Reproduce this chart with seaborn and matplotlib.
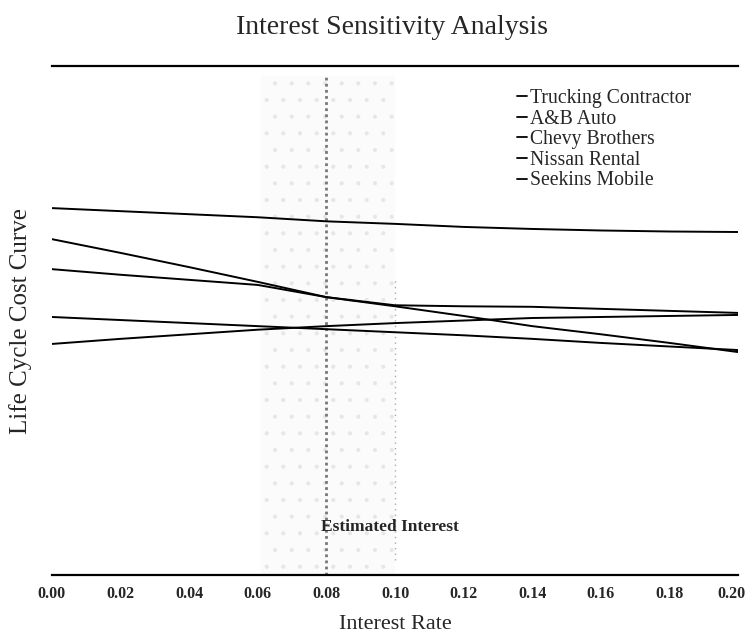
import numpy as np
import pandas as pd
import matplotlib
matplotlib.use("Agg")
import matplotlib.pyplot as plt
import matplotlib.transforms as mtransforms
import seaborn as sns

# ---- data (y axis has no scale, arbitrary units 0-100) ----
interest_rate = [0.00, 0.02, 0.04, 0.06, 0.08, 0.10, 0.12, 0.14, 0.16, 0.18, 0.20]
trucking_contractor = [72.1, 71.5, 70.9, 70.3, 69.5, 69.0, 68.4, 68.0, 67.7, 67.5, 67.4]
ab_auto = [66.0, 63.3, 60.5, 57.6, 54.6, 52.8, 50.9, 48.9, 47.3, 45.6, 43.8]
chevy_brothers = [60.1, 59.0, 58.0, 57.0, 54.6, 53.0, 52.8, 52.7, 52.3, 51.9, 51.5]
nissan_rental = [50.7, 50.1, 49.5, 48.9, 48.3, 47.7, 47.1, 46.4, 45.6, 44.9, 44.2]
seekins_mobile = [45.4, 46.4, 47.3, 48.2, 48.9, 49.5, 50.0, 50.5, 50.7, 50.9, 51.1]
series_names = ["Trucking Contractor", "A&B Auto", "Chevy Brothers",
                "Nissan Rental", "Seekins Mobile"]
x_ticks = [0.00, 0.02, 0.04, 0.06, 0.08, 0.10, 0.12, 0.14, 0.16, 0.18, 0.20]
x_tick_labels = ["0.00", "0.02", "0.04", "0.06", "0.08", "0.10",
                 "0.12", "0.14", "0.16", "0.18", "0.20"]
estimated_interest = 0.08
sensitivity_band = (0.061, 0.10)

series_values = [trucking_contractor, ab_auto, chevy_brothers,
                 nissan_rental, seekins_mobile]
df = pd.DataFrame({
    "Interest Rate": np.tile(interest_rate, len(series_names)),
    "Cost": np.concatenate(series_values),
    "Company": np.repeat(series_names, len(interest_rate)),
})

sns.set_theme(style="white")
plt.rcParams["font.family"] = ["Liberation Serif", "DejaVu Serif"]
plt.rcParams["hatch.linewidth"] = 0.5

fig = plt.figure(figsize=(7.51, 6.36), dpi=100)
ax = fig.add_axes([0.069, 0.096, 0.914, 0.800])

# shaded sensitivity band and estimated interest line
ax.axvspan(*sensitivity_band, ymax=0.98, facecolor="#fbfbfb", edgecolor="#e6e6e6",
           hatch=".", linewidth=0, zorder=0)
ax.axvline(estimated_interest, ymax=0.98, color="#777777", linestyle=(0, (1, 1.2)),
           linewidth=2.0, zorder=1)
ax.axvline(sensitivity_band[1], ymin=0.03, ymax=0.58, color="#aaaaaa",
           linestyle=(0, (1, 3)), linewidth=1.0, zorder=1)

palette = {name: "black" for name in series_names}
sns.lineplot(data=df, x="Interest Rate", y="Cost", hue="Company",
             hue_order=series_names, palette=palette, linewidth=1.4,
             ax=ax, zorder=3)

ax.set_xlim(0, 0.20)
ax.set_ylim(0, 100)
ax.set_xticks(x_ticks)
ax.set_xticklabels(x_tick_labels, fontsize=11.5, fontweight="bold")
ax.set_yticks([])
ax.tick_params(axis="x", length=0, pad=8)
# keep the last tick label inside the canvas
last = ax.get_xticklabels()[-1]
last.set_transform(last.get_transform() +
                   mtransforms.ScaledTranslation(-5 / 72, 0, fig.dpi_scale_trans))

for side in ["left", "right"]:
    ax.spines[side].set_visible(False)
for side in ["top", "bottom"]:
    ax.spines[side].set_visible(True)
    ax.spines[side].set_color("black")
    ax.spines[side].set_linewidth(1.6)

ax.set_xlabel("Interest Rate", fontsize=16, labelpad=9)
ax.set_ylabel("Life Cycle Cost Curve", fontsize=18, labelpad=14)
fig.text(0.522, 0.956, "Interest Sensitivity Analysis", ha="center",
         va="center", fontsize=20)

ax.text(0.0785, 9.5, "Estimated Interest", fontsize=12.5, fontweight="bold",
        ha="left", va="center", zorder=4)

leg = ax.legend(loc="upper left", bbox_to_anchor=(0.657, 0.982), frameon=False,
                handlelength=0.55, handletextpad=0.12, labelspacing=0.08,
                borderpad=0.2,
                prop={"size": 14.2, "family": ["Liberation Serif"]})
for line in leg.get_lines():
    line.set_linewidth(1.3)

fig.savefig("out.png", dpi=100, facecolor="white")
